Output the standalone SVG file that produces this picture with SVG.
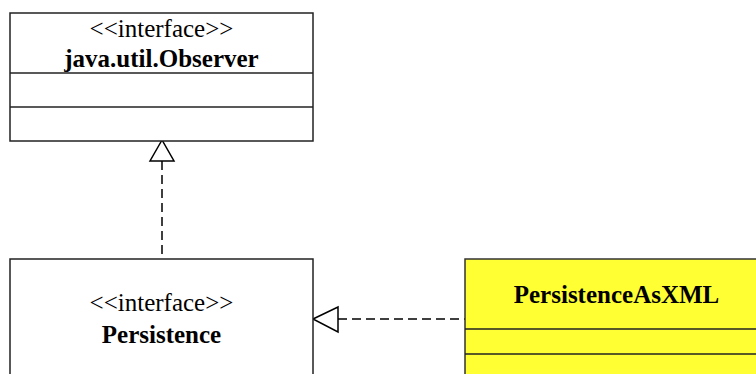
<svg xmlns="http://www.w3.org/2000/svg" width="756" height="374" viewBox="0 0 756 374">
  <defs>
    <style>
      .box { fill: #ffffff; stroke: #222222; stroke-width: 1.5; }
      .impl { fill: #ffff33; stroke: #333333; stroke-width: 1.5; }
      .sep { stroke: #222222; stroke-width: 1.5; }
      .stereo { font-family: "Liberation Serif", "Times New Roman", serif; font-size: 25px; text-anchor: middle; fill: #000000; }
      .name { font-family: "Liberation Serif", "Times New Roman", serif; font-size: 25px; font-weight: bold; text-anchor: middle; fill: #000000; }
      .dash { fill: none; stroke: #000000; stroke-width: 1.5; stroke-dasharray: 9 5; }
      .head { fill: #ffffff; stroke: #000000; stroke-width: 1.5; }
    </style>
  </defs>
  <rect width="756" height="374" fill="#ffffff"/>

  <!-- connectors: dashed realization lines with hollow triangle heads -->
  <g id="connectors">
    <line class="dash" x1="162" y1="161" x2="162" y2="259"/>
    <polygon class="head" points="162,140 150,161 174,161"/>
    <line class="dash" x1="338" y1="319" x2="465" y2="319"/>
    <polygon class="head" points="313,319 338,307 338,332"/>
  </g>

  <!-- interface java.util.Observer -->
  <g id="observer">
    <rect class="box" x="10" y="13" width="303" height="128"/>
    <line class="sep" x1="10" y1="73" x2="313" y2="73"/>
    <line class="sep" x1="10" y1="107" x2="313" y2="107"/>
    <text class="stereo" x="161.5" y="37">&lt;&lt;interface&gt;&gt;</text>
    <text class="name" x="161.5" y="67">java.util.Observer</text>
  </g>

  <!-- interface Persistence -->
  <g id="persistence">
    <rect class="box" x="10" y="259" width="303" height="130"/>
    <text class="stereo" x="161.5" y="311">&lt;&lt;interface&gt;&gt;</text>
    <text class="name" x="161.5" y="343">Persistence</text>
  </g>

  <!-- class PersistenceAsXML -->
  <g id="persistenceAsXML">
    <rect class="impl" x="465" y="259" width="303" height="130"/>
    <line class="sep" x1="465" y1="329" x2="768" y2="329"/>
    <line class="sep" x1="465" y1="354" x2="768" y2="354"/>
    <text class="name" x="616.5" y="303">PersistenceAsXML</text>
  </g>
</svg>
